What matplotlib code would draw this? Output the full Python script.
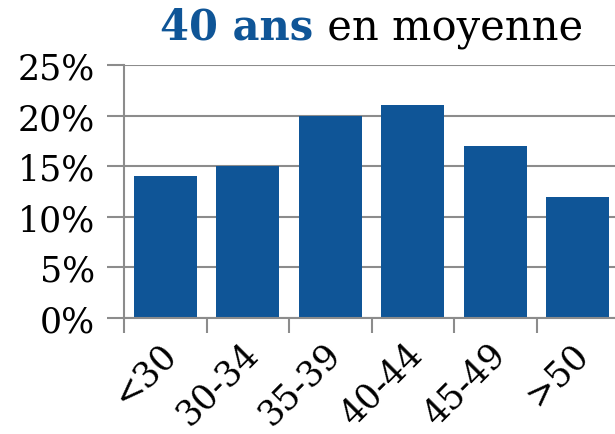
import matplotlib
matplotlib.use("Agg")
import matplotlib.pyplot as plt
from matplotlib.ticker import FixedLocator, FuncFormatter
import numpy as np

categories = ["<30", "30-34", "35-39", "40-44", "45-49", ">50"]
values = [14, 15, 20, 21, 17, 12]
yticks = [0, 5, 10, 15, 20, 25]
title_bold = "40 ans"
title_rest = " en moyenne"

BLUE = "#0F5597"
GRAY = "#8C8C8C"
FONT = "DejaVu Serif"

plt.rcParams["font.family"] = FONT

fig = plt.figure(figsize=(6.15, 4.35), dpi=100)
ax = fig.add_axes([124/615, 1-319/435, (619-124)/615, (319-66)/435])

x = np.arange(len(categories))
ax.bar(x, values, width=0.76, color=BLUE, zorder=3)
ax.set_xlim(-0.5, len(categories)-0.5)
ax.set_ylim(0, 25)

ax.set_yticks(yticks)
ax.yaxis.set_major_formatter(FuncFormatter(lambda v, p: f"{int(v)}%"))
ax.grid(axis="y", color=GRAY, linewidth=1.5, zorder=0)
ax.tick_params(axis="y", length=12, width=1.5, color=GRAY, labelsize=25, pad=9)

ax.xaxis.set_major_locator(FixedLocator(np.arange(len(categories)+1) - 0.5))
ax.xaxis.set_minor_locator(FixedLocator(x))
ax.set_xticklabels([], minor=False)
ax.set_xticklabels(categories, minor=True, rotation=45, ha="right", rotation_mode="anchor")
ax.tick_params(axis="x", which="major", length=11, width=1.5, color=GRAY)
ax.tick_params(axis="x", which="minor", length=0, labelsize=25, pad=13)
for lab in ax.get_xticklabels(minor=True):
    lab.set_transform(lab.get_transform() + matplotlib.transforms.ScaledTranslation(-7/100, 0, fig.dpi_scale_trans))

for s in ["top", "right"]:
    ax.spines[s].set_visible(False)
for s in ["left", "bottom"]:
    ax.spines[s].set_color(GRAY)
    ax.spines[s].set_linewidth(1.5)
ax.spines["bottom"].set_zorder(4)

# Title in two parts
fig.canvas.draw()
r = fig.canvas.get_renderer()
t1 = fig.text(0, 0, title_bold, fontsize=30, fontweight="bold", color=BLUE, family=FONT)
t2 = fig.text(0, 0, title_rest, fontsize=30, color="black", family=FONT)
w1 = t1.get_window_extent(r).width
w2 = t2.get_window_extent(r).width
cx = (124 + 619) / 2
total = w1 + w2
left = cx - total / 2
ybase = 435 - 40
t1.set_position((left/615, ybase/435))
t2.set_position(((left + w1)/615, ybase/435))

fig.savefig("out.png", dpi=100)
